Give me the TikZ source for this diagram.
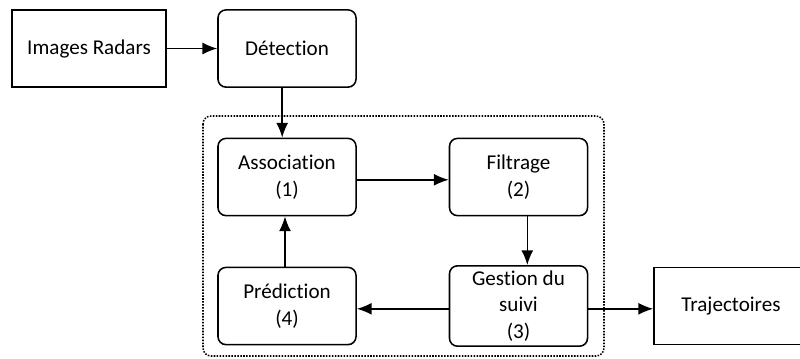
\documentclass[tikz,border=0pt]{standalone}
\usepackage{fontspec}
\setmainfont{Carlito}[Ligatures=NoCommon]
\usetikzlibrary{arrows.meta}
\tikzset{
  blocbox/.style={draw, line width=1.1pt, rounded corners=0.2cm, minimum width=3.45cm,
    minimum height=1.93cm, align=center, font=\fontsize{15}{19}\selectfont},
  carrebox/.style={draw, line width=1.1pt, minimum width=3.85cm,
    minimum height=1.93cm, align=center, font=\fontsize{15}{19}\selectfont},
  fleche/.style={-{Latex[length=10.5pt,width=8.5pt]}, line width=1.1pt}
}
\begin{document}
\begin{tikzpicture}[x=0.025cm, y=-0.025cm]
  \useasboundingbox (0,0) rectangle (800,358);

  % dotted frame around the tracking loop
  \draw[densely dotted, line width=1.1pt, rounded corners=0.2cm] (203,116) rectangle (604,356);

  % input / detection (top row)
  \node[carrebox] (images) at (89,48.5) {Images Radars};
  \node[blocbox] (detection) at (287,48.5) {Détection};

  % loop
  \node[blocbox] (assoc) at (287,177) {Association\\(1)};
  \node[blocbox] (filtrage) at (518.5,177) {Filtrage\\(2)};
  \node[blocbox] (gestion) at (518.5,306) {Gestion du\\suivi\\(3)};
  \node[blocbox] (prediction) at (287,306) {Prédiction\\(4)};

  % output
  \node[carrebox] (traj) at (731,306) {Trajectoires};

  % connections
  \draw[fleche] (images) -- (detection);
  \draw[fleche] ([xshift=-0.12cm]detection.south) -- ([xshift=-0.12cm]assoc.north);
  \draw[fleche] ([yshift=-0.07cm]assoc.east) -- ([yshift=-0.07cm]filtrage.west);
  \draw[fleche] ([xshift=0.22cm]filtrage.south) -- ([xshift=0.22cm]gestion.north);
  \draw[fleche] ([yshift=-0.07cm]gestion.west) -- ([yshift=-0.07cm]prediction.east);
  \draw[fleche] ([xshift=-0.05cm]prediction.north) -- ([xshift=-0.05cm]assoc.south);
  \draw[fleche] ([yshift=-0.07cm]gestion.east) -- ([yshift=-0.07cm]traj.west);
\end{tikzpicture}
\end{document}
